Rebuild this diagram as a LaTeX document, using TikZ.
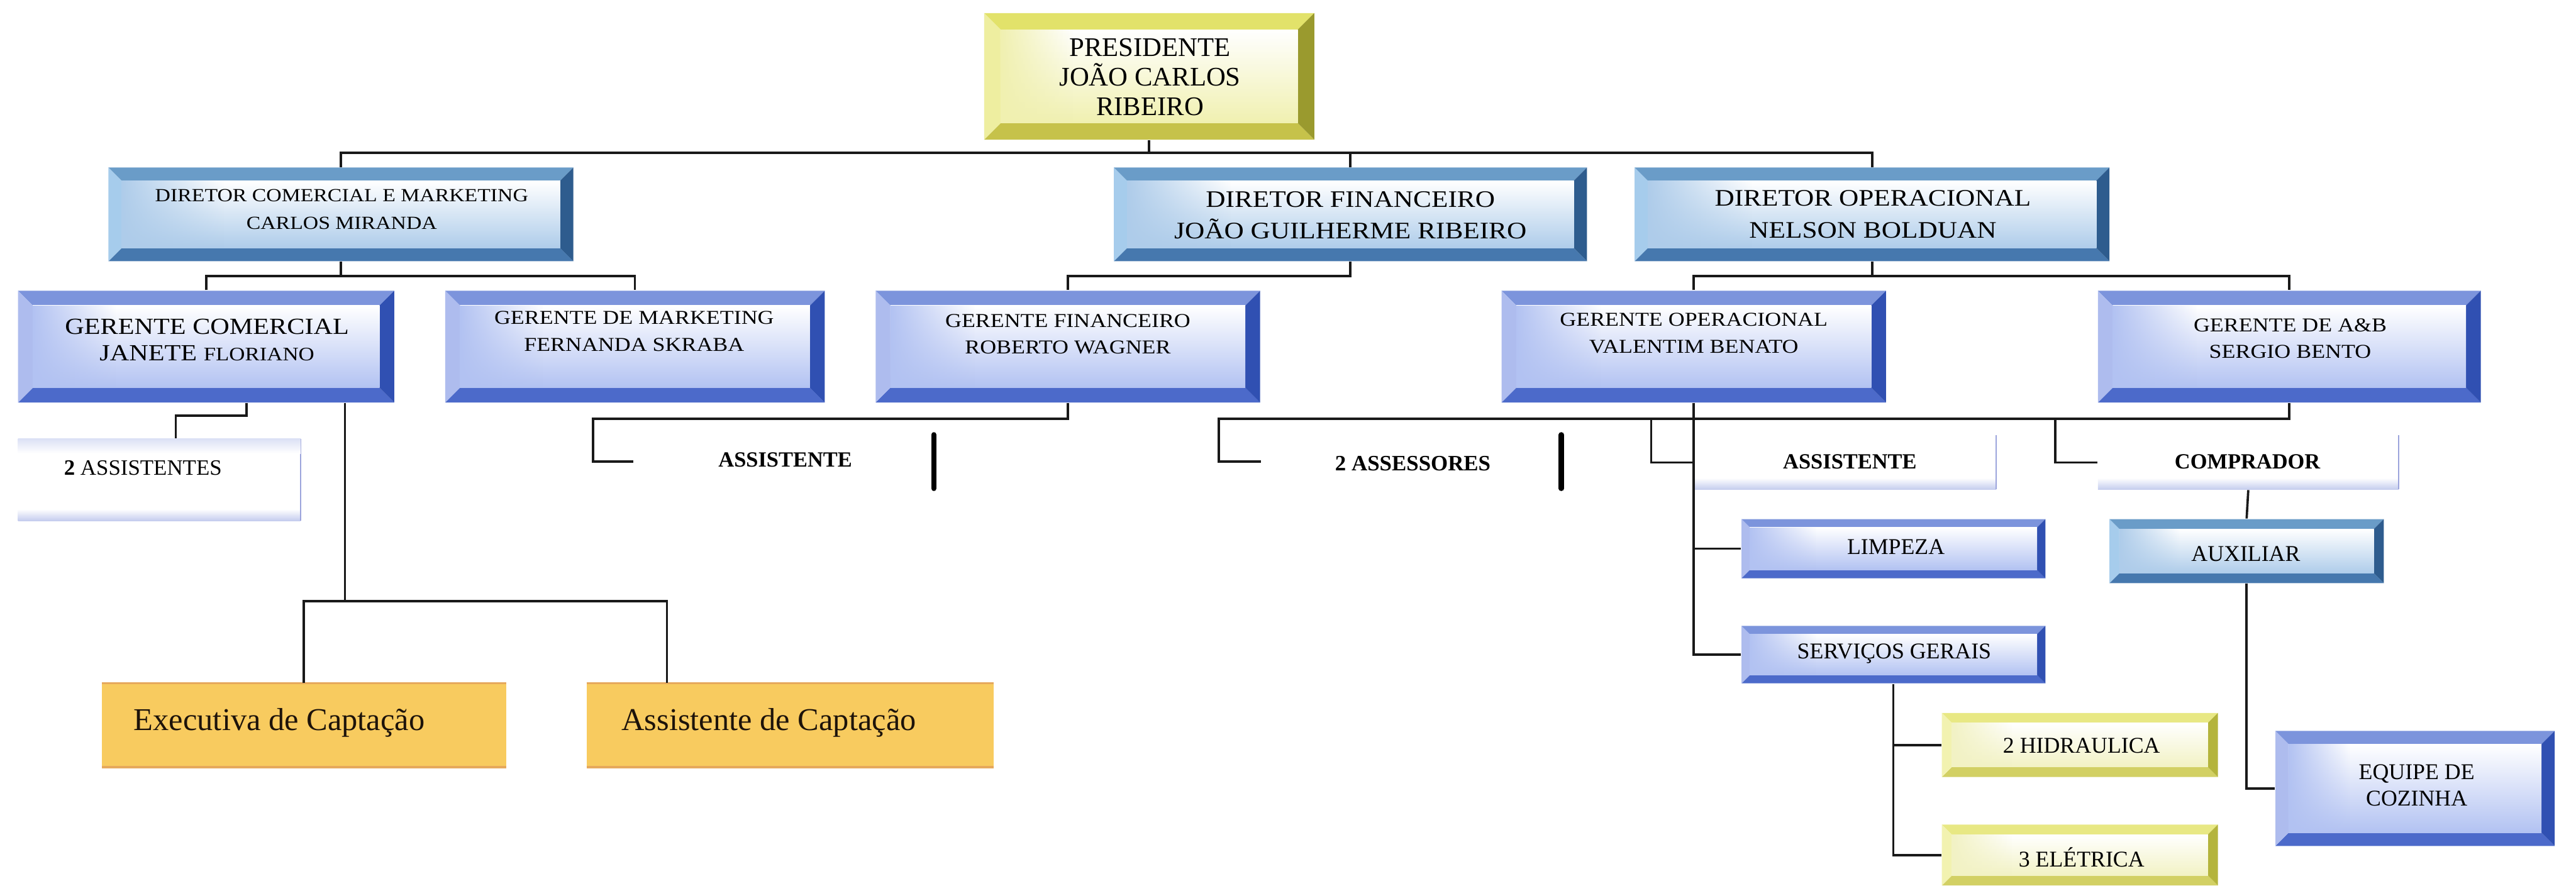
\documentclass[tikz,border=0pt]{standalone}
\usepackage{fontspec}
\setmainfont{Liberation Serif}
\newfontfamily\wide{Liberation Serif}[FakeStretch=1.15]
\usetikzlibrary{fit,fadings}
\tikzfading[name=fadeR, left color=transparent!0, right color=transparent!100]
% palettes: T top, L left, R right, B bottom, F face
\definecolor{presT}{HTML}{E2E26A}\definecolor{presL}{HTML}{EEEEA0}\definecolor{presR}{HTML}{9A9A2E}\definecolor{presB}{HTML}{C6C24A}\definecolor{presF}{HTML}{F0F0B0}
\definecolor{steelT}{HTML}{6A9CC8}\definecolor{steelL}{HTML}{A6CCEC}\definecolor{steelR}{HTML}{2E5C8E}\definecolor{steelB}{HTML}{4678AE}\definecolor{steelF}{HTML}{AECCEA}
\definecolor{periT}{HTML}{7C94DC}\definecolor{periL}{HTML}{AEBCEE}\definecolor{periR}{HTML}{3050B2}\definecolor{periB}{HTML}{4C6ACA}\definecolor{periF}{HTML}{B2C2F2}
\definecolor{yelT}{HTML}{E8E884}\definecolor{yelL}{HTML}{F2F2B0}\definecolor{yelR}{HTML}{B4B43C}\definecolor{yelB}{HTML}{D2D064}\definecolor{yelF}{HTML}{F2F2C4}
\definecolor{orangeF}{HTML}{F8CB5F}\definecolor{orangeE}{HTML}{E6A95C}
\definecolor{faintC}{HTML}{C4CCEE}\definecolor{faintL}{HTML}{9CA4DC}
\tikzset{
  boxn/.style={inner sep=0pt, draw=none},
  txt/.style={align=center, inner sep=0pt, text=black},
  conn/.style={draw=black!90, line width=0.8pt},
  barline/.style={line width=1.8pt, line cap=round},
}
% bevelled box: name, x1, y1, x2, y2, palette, bevel width
\newcommand\obox[7]{%
  \fill[#6T] (#2,#3) -- (#4,#3) -- ({#4-#7},{#3+#7}) -- ({#2+#7},{#3+#7}) -- cycle;
  \fill[#6B] (#2,#5) -- (#4,#5) -- ({#4-#7},{#5-#7}) -- ({#2+#7},{#5-#7}) -- cycle;
  \fill[#6L] (#2,#3) -- ({#2+#7},{#3+#7}) -- ({#2+#7},{#5-#7}) -- (#2,#5) -- cycle;
  \fill[#6R] (#4,#3) -- ({#4-#7},{#3+#7}) -- ({#4-#7},{#5-#7}) -- (#4,#5) -- cycle;
  \shade[top color=white, bottom color=#6F] ({#2+#7},{#3+#7}) rectangle ({#4-#7},{#5-#7});
  \fill[#6F, path fading=fadeR] ({#2+#7},{#3+#7}) rectangle ({#2+#7+(#4-#2)*0.22},{#5-#7});
  \node[boxn, fit={(#2,#3) (#4,#5)}] (#1) {};%
}
% faint box: name, x1, y1, x2, y2
\newcommand\faintbox[5]{%
  \shade[top color=white, bottom color=faintC] (#2,{#5-7}) rectangle (#4,#5);
  \draw[faintL, line width=0.6pt] (#4,#3) -- (#4,#5);
  \node[boxn, fit={(#2,#3) (#4,#5)}] (#1) {};%
}
% orange flat box
\newcommand\orbox[5]{%
  \fill[orangeF] (#2,#3) rectangle (#4,#5);
  \draw[orangeE, line width=0.7pt] (#2,#3) -- (#4,#3) (#2,#5) -- (#4,#5);
  \node[boxn, fit={(#2,#3) (#4,#5)}] (#1) {};%
}
\begin{document}
\begin{tikzpicture}[x=0.02cm, y=-0.02cm]
\useasboundingbox (0,0) rectangle (1568,539);
\fill[white] (0,0) rectangle (1568,539);

% ---- boxes ----
\obox{pres}{599}{8}{800}{85}{pres}{10}
\obox{dcm}{66}{102}{349}{159}{steel}{8}
\obox{df}{678}{102}{966}{159}{steel}{8}
\obox{do}{995}{102}{1284}{159}{steel}{8}
\obox{gc}{11}{177}{240}{245}{peri}{9}
\obox{gm}{271}{177}{502}{245}{peri}{9}
\obox{gf}{533}{177}{767}{245}{peri}{9}
\obox{go}{914}{177}{1148}{245}{peri}{9}
\obox{gab}{1277}{177}{1510}{245}{peri}{9}
\obox{limp}{1060}{316}{1245}{352}{peri}{5}
\obox{sg}{1060}{381}{1245}{416}{peri}{5}
\obox{aux}{1284}{316}{1451}{355}{steel}{6}
\obox{equ}{1385}{445}{1555}{515}{peri}{8}
\obox{hid}{1182}{434}{1350}{473}{yel}{6}
\obox{ele}{1182}{502}{1350}{539}{yel}{6}
\orbox{exec}{62}{416}{308}{467}
\orbox{asscap}{357}{416}{605}{467}
\faintbox{a2}{11}{267}{183}{317}
\shade[top color=faintC!60, bottom color=white] (11,267) rectangle (183,276);
\faintbox{aop}{1031}{265}{1215}{298}
\faintbox{comp}{1277}{265}{1460}{298}
\node[boxn, fit={(386,265) (568,297)}] (afin) {};
\node[boxn, fit={(768,265) (950,297)}] (asse) {};

% ---- texts ----
\node[txt, font=\fontsize{9.3}{10.2}\selectfont] (pres-t) at (700,47) {PRESIDENTE\\JOÃO CARLOS\\RIBEIRO};
\node[txt, font=\wide\fontsize{6.4}{9.6}\selectfont] (dcm-t) at (208,127.5) {DIRETOR COMERCIAL E MARKETING\\CARLOS MIRANDA};
\node[txt, font=\wide\fontsize{8.2}{11}\selectfont] (df-t) at (822,131) {DIRETOR FINANCEIRO\\JOÃO GUILHERME RIBEIRO};
\node[txt, font=\wide\fontsize{8.2}{11}\selectfont] (do-t) at (1140,130.5) {DIRETOR OPERACIONAL\\NELSON BOLDUAN};
\node[txt, font=\wide\fontsize{8}{9.2}\selectfont] (gc-t) at (126,207) {GERENTE COMERCIAL\\JANETE {\fontsize{6.6}{9.2}\selectfont FLORIANO}};
\node[txt, font=\wide\fontsize{6.8}{9.4}\selectfont] (gm-t) at (386,201.5) {GERENTE DE MARKETING\\FERNANDA SKRABA};
\node[txt, font=\wide\fontsize{6.8}{9.2}\selectfont] (gf-t) at (650,203.5) {GERENTE FINANCEIRO\\ROBERTO WAGNER};
\node[txt, font=\wide\fontsize{6.8}{9.4}\selectfont] (go-t) at (1031,203) {GERENTE OPERACIONAL\\VALENTIM BENATO};
\node[txt, font=\wide\fontsize{6.8}{9}\selectfont] (gab-t) at (1394,206) {GERENTE DE A\&B\\SERGIO BENTO};
\node[txt, font=\fontsize{7.6}{9}\selectfont] (a2-t) at (87,285) {{\bfseries 2} ASSISTENTES};
\node[txt, font=\bfseries\fontsize{7.5}{9}\selectfont] (afin-t) at (478,280) {ASSISTENTE};
\node[txt, font=\bfseries\fontsize{7.6}{9}\selectfont] (asse-t) at (860,282) {2 ASSESSORES};
\node[txt, font=\bfseries\fontsize{7.5}{9}\selectfont] (aop-t) at (1126,281) {ASSISTENTE};
\node[txt, font=\bfseries\fontsize{7.5}{9}\selectfont] (comp-t) at (1368,281) {COMPRADOR};
\node[txt, font=\fontsize{7.8}{9}\selectfont] (limp-t) at (1154,333) {LIMPEZA};
\node[txt, font=\fontsize{7.8}{9}\selectfont] (sg-t) at (1153,398) {SERVIÇOS GERAIS};
\node[txt, font=\fontsize{7.8}{9}\selectfont] (aux-t) at (1367,337) {AUXILIAR};
\node[txt, font=\fontsize{7.8}{9}\selectfont] (equ-t) at (1471,478) {EQUIPE DE\\COZINHA};
\node[txt, font=\fontsize{7.8}{9}\selectfont] (hid-t) at (1267,454) {2 HIDRAULICA};
\node[txt, font=\fontsize{7.8}{9}\selectfont] (ele-t) at (1267,522) {3 ELÉTRICA};
\node[txt, text=black!85!brown, font=\fontsize{11}{12}\selectfont] (exec-t) at (170,440) {Executiva de Captação};
\node[txt, text=black!85!brown, font=\fontsize{11}{12}\selectfont] (asscap-t) at (468,440) {Assistente de Captação};

% ---- helper coordinates ----
\coordinate (busA) at (0,93);
\coordinate (busB) at (0,168);
\coordinate (busC) at (0,255);
\coordinate (busC2) at (0,253);
\coordinate (busD) at (0,366);
\coordinate (x107) at (107,0);
\coordinate (x150) at (150,0);
\coordinate (x210) at (210,0);
\coordinate (x361) at (361,0);
\coordinate (x406) at (406,0);
\coordinate (x742) at (742,0);
\coordinate (x1005) at (1005,0);
\coordinate (x1251) at (1251,0);

% ---- connectors ----
\draw[conn] (pres.south) -- (pres.south |- busA);
\draw[conn] (dcm.north) |- (do.north |- busA) -- (do.north);
\draw[conn] (df.north) -- (df.north |- busA);
\draw[conn] (dcm.south) -- (dcm.south |- busB);
\draw[conn] (gc.north) |- (gm.north |- busB) -- (gm.north);
\draw[conn] (df.south) |- (gf.north |- busB) -- (gf.north);
\draw[conn] (do.south) -- (do.south |- busB);
\draw[conn] (go.north) |- (gab.north |- busB) -- (gab.north);
\draw[conn] (gc.south -| x150) |- (x107 |- busC2) -- (a2.north -| x107);
\draw[conn] (gc.south -| x210) -- (x210 |- busD);
\draw[conn] (exec.north) |- (x406 |- busD) -- (asscap.north -| x406);
\draw[conn] (gf.south) |- (x361 |- busC) |- (afin.west);
\draw[conn] (gab.south) |- (x742 |- busC) |- (asse.west);
\draw[conn] (x1005 |- busC) |- (aop.west);
\draw[conn] (x1251 |- busC) |- (comp.west);
\draw[conn] (go.south) |- (sg.west);
\draw[conn] (go.south |- limp.west) -- (limp.west);
\draw[conn] (comp.south) -- (aux.north);
\draw[conn] (sg.south) |- (ele.west);
\draw[conn] (sg.south |- hid.west) -- (hid.west);
\draw[conn] (aux.south) |- (equ.west);
\draw[barline] (afin.north east) -- (afin.south east);
\draw[barline] (asse.north east) -- (asse.south east);
\end{tikzpicture}
\end{document}
